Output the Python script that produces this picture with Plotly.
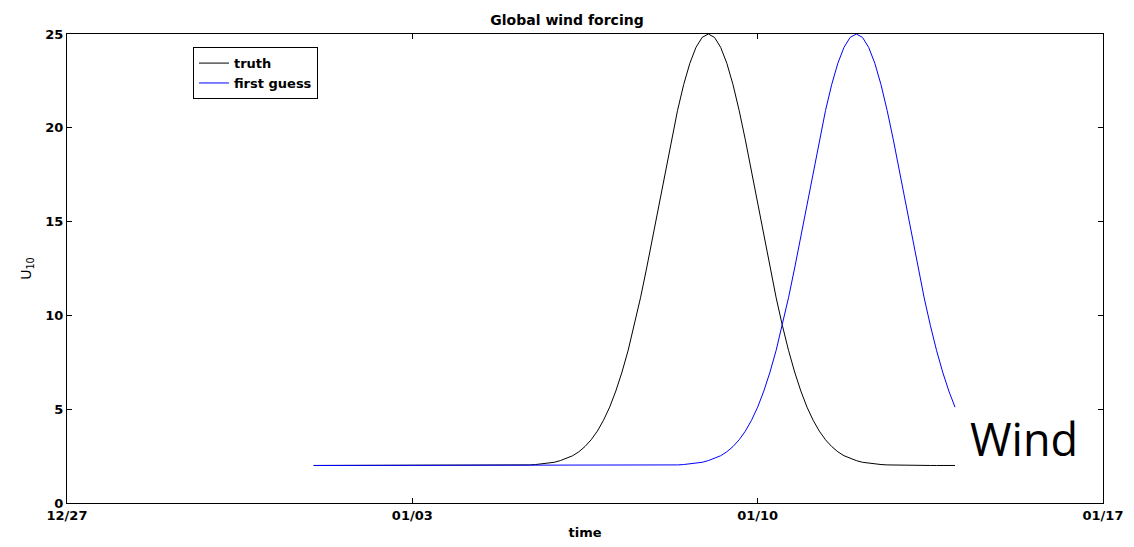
import pandas as pd
import plotly.graph_objects as go

# 3-hourly time stamps from 01/01 to 01/14
times = pd.date_range("2000-01-01 00:00", "2000-01-14 00:00", freq="3h")

truth = [2.00] * 32 + [
    2.01, 2.01, 2.02, 2.03, 2.05, 2.08, 2.12, 2.17, 2.26, 2.37, 2.52, 2.73,
    3.01, 3.37, 3.83, 4.41, 5.11, 5.97, 6.98, 8.14, 9.47, 10.94, 12.53, 14.22,
    15.95, 17.68, 19.36, 20.92, 22.30, 23.44, 24.29, 24.82, 25.00,
    24.82, 24.29, 23.44, 22.30, 20.92, 19.36, 17.68, 15.95, 14.22, 12.53,
    10.94, 9.47, 8.14, 6.98, 5.97, 5.11, 4.41, 3.83, 3.37, 3.01, 2.73, 2.52,
    2.37, 2.26, 2.17, 2.12, 2.08, 2.05, 2.03, 2.02, 2.01, 2.01,
] + [2.00] * 8

first_guess = [2.00] * 56 + [
    2.01, 2.01, 2.02, 2.03, 2.05, 2.08, 2.12, 2.17, 2.26, 2.37, 2.52, 2.73,
    3.01, 3.37, 3.83, 4.41, 5.11, 5.97, 6.98, 8.14, 9.47, 10.94, 12.53, 14.22,
    15.95, 17.68, 19.36, 20.92, 22.30, 23.44, 24.29, 24.82, 25.00,
    24.82, 24.29, 23.44, 22.30, 20.92, 19.36, 17.68, 15.95, 14.22, 12.53,
    10.94, 9.47, 8.14, 6.98, 5.97, 5.11,
]

x_tickvals = ["1999-12-27", "2000-01-03", "2000-01-10", "2000-01-17"]
x_ticktext = ["12/27", "01/03", "01/10", "01/17"]
y_tickvals = [0, 5, 10, 15, 20, 25]

font_main = "DejaVu Sans, Liberation Sans, sans-serif"

fig = go.Figure()
fig.add_trace(go.Scatter(x=times, y=truth, mode="lines", name="truth",
                         line=dict(color="black", width=1)))
fig.add_trace(go.Scatter(x=times, y=first_guess, mode="lines", name="first guess",
                         line=dict(color="#0000ff", width=1)))

fig.update_layout(
    width=1134, height=547,
    margin=dict(l=67, r=31, t=34, b=44),
    paper_bgcolor="white", plot_bgcolor="white",
    font=dict(family=font_main, size=13, color="black", weight="bold"),
    title=dict(text="Global wind forcing", x=0.5, xanchor="center",
               y=1 - 20 / 547, yanchor="middle",
               font=dict(family=font_main, size=14, color="black", weight="bold")),
    showlegend=True,
    legend=dict(x=0.1216, y=0.972, xanchor="left", yanchor="top",
                bordercolor="black", borderwidth=1, bgcolor="white",
                font=dict(family=font_main, size=13, color="black", weight="bold"),
                tracegroupgap=0, itemwidth=30),
    annotations=[dict(text="Wind", xref="paper", yref="paper",
                      x=(1024 - 67) / 1036, y=(503 - 438) / 469,
                      xanchor="center", yanchor="middle", showarrow=False,
                      font=dict(family="Open Sans, sans-serif", size=45, color="black",
                                weight="normal"))],
)

fig.update_xaxes(
    type="date", range=["1999-12-27", "2000-01-17"],
    tickvals=x_tickvals, ticktext=x_ticktext,
    ticks="inside", ticklen=5, tickcolor="black",
    tickfont=dict(family=font_main, size=13, weight="bold"),
    showline=True, linecolor="black", linewidth=1, mirror="ticks",
    showgrid=False, zeroline=False, automargin=False,
    title=dict(text="time", standoff=6,
               font=dict(family=font_main, size=13, weight="bold")),
)
fig.update_yaxes(
    range=[0, 25], tickvals=y_tickvals,
    ticks="inside", ticklen=5, tickcolor="black",
    tickfont=dict(family=font_main, size=13, weight="bold"),
    showline=True, linecolor="black", linewidth=1, mirror="ticks",
    showgrid=False, zeroline=False, automargin=False,
    title=dict(text="U<sub>10</sub>", standoff=10,
               font=dict(family=font_main, size=14, weight="normal")),
)

fig.write_html("out.html")
